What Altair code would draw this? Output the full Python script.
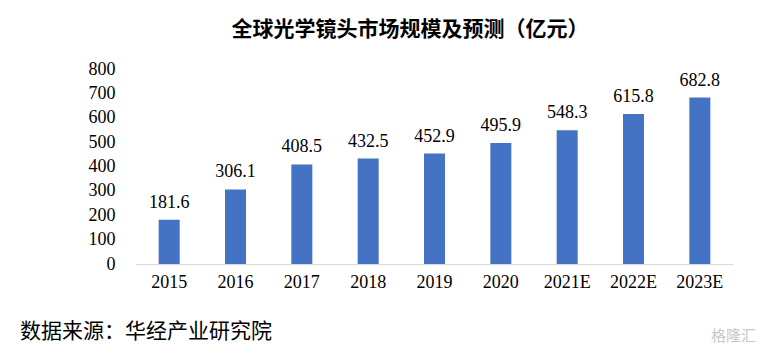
import altair as alt
import pandas as pd

years = ["2015", "2016", "2017", "2018", "2019", "2020", "2021E", "2022E", "2023E"]
values = [181.6, 306.1, 408.5, 432.5, 452.9, 495.9, 548.3, 615.8, 682.8]
y_ticks = [0, 100, 200, 300, 400, 500, 600, 700, 800]
title_text = "全球光学镜头市场规模及预测（亿元）"
source_text = "数据来源：华经产业研究院"
watermark_text = "格隆汇"

df = pd.DataFrame({"year": years, "value": values, "label": [f"{v:.1f}" for v in values]})

serif = "Liberation Serif"
cjk = "Noto Sans CJK SC"

x = alt.X("year:N", sort=years, title=None,
          scale=alt.Scale(paddingInner=0.68, paddingOuter=0.34),
          axis=alt.Axis(labelAngle=0, ticks=False, domainColor="#d9d9d9", domainWidth=1,
                        labelFont=serif, labelFontSize=18, labelColor="#000000", labelPadding=9))
y = alt.Y("value:Q", title=None,
          scale=alt.Scale(domain=[0, 800], nice=False),
          axis=alt.Axis(values=y_ticks, grid=False, domain=False, ticks=False, labelOverlap=False,
                        labelFont=serif, labelFontSize=18, labelColor="#000000", labelPadding=21))

base = alt.Chart(df)
bars = base.mark_bar(color="#4472C4", size=21).encode(x=x, y=y)
labels = base.mark_text(font=serif, fontSize=18, color="#000000", baseline="bottom", dy=-8).encode(
    x=x, y=y, text="label:N")

title = alt.Chart(pd.DataFrame({"t": [title_text]})).mark_text(
    font=cjk, fontSize=21, fontWeight="bold", color="#000000", align="center", baseline="middle"
).encode(x=alt.value(274), y=alt.value(-39), text="t:N")

source = alt.Chart(pd.DataFrame({"t": [source_text]})).mark_text(
    font=cjk, fontSize=21, color="#000000", align="left", baseline="middle"
).encode(x=alt.value(-116), y=alt.value(263), text="t:N")

wm = alt.Chart(pd.DataFrame({"t": [watermark_text]})).mark_text(
    font=cjk, fontSize=15, color="#c8c8c8", align="left", baseline="middle"
).encode(x=alt.value(575), y=alt.value(267), text="t:N")

chart = alt.layer(bars, labels, title, source, wm).properties(
    width=597, height=195,
    background="#ffffff",
    autosize=alt.AutoSizeParams(type="none"),
    padding={"left": 136, "top": 69, "right": 29, "bottom": 90},
).configure_view(strokeWidth=0, stroke=None).configure_axis(
    labelFont=serif, labelFontSize=18, labelColor="#000000", labelOverlap=False)

chart.save("out.html", embed_options={"renderer": "svg", "actions": False})
